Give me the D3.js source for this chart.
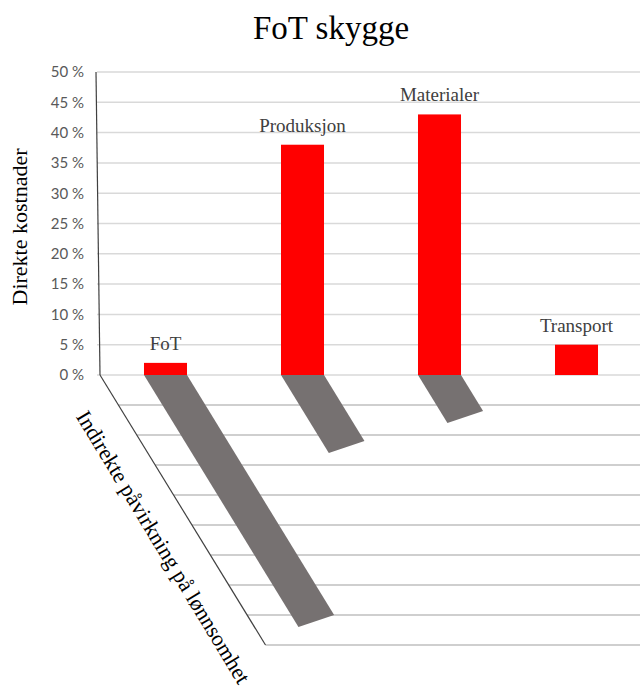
<!DOCTYPE html>
<html>
<head>
<meta charset="utf-8">
<script src="https://cdn.jsdelivr.net/npm/d3@7"></script>
<style>
  body { margin: 0; background: #fff; }
</style>
</head>
<body>
<svg id="shadowChart" width="640" height="691"></svg>
<script>
// red bars = direct costs, grey bars on the floor = indirect effect ("shadow")
const categories = ["FoT", "Produksjon", "Materialer", "Transport"]
const directCosts = [0.02, 0.38, 0.43, 0.05]
const indirectImpact = [0.42, 0.13, 0.08, 0]
const yTicks = [0, 0.05, 0.10, 0.15, 0.20, 0.25, 0.30, 0.35, 0.40, 0.45, 0.50]
const floorTicks = [0.05, 0.10, 0.15, 0.20, 0.25, 0.30, 0.35, 0.40, 0.45]

class ShadowChart {
    constructor() {
        this.vizWidth = 640
        this.vizHeight = 691
        this.setup()
        this.drawChart()
    }

    setup() {
        this.baseY = 375
        this.x = d3.scaleBand()
            .domain(categories)
            .range([97, 645])
            .paddingInner(0.686)
            .paddingOuter(0.343)
        this.y = d3.scaleLinear().domain([0, 0.5]).range([this.baseY, 72])
        // floor depth, measured straight down from the baseline
        this.depth = d3.scaleLinear().domain([0, 0.45]).range([0, 270])
        this.slant = 0.613   // px to the right per px of depth
        this.cut = 12        // far end of a shadow is tilted
        this.serif = "'Liberation Serif', 'Times New Roman', serif"
        this.pct = d => `${Math.round(d * 100)} %`
    }

    drawChart() {
        const svg = d3.select("#shadowChart")
        const base = this.baseY
        const edgeX = dy => 100 + dy * this.slant

        svg.append("text")
            .attr("x", 331).attr("y", 39)
            .attr("text-anchor", "middle")
            .attr("font-family", this.serif)
            .attr("font-size", 33)
            .attr("fill", "#000")
            .text("FoT skygge")

        // back wall gridlines
        svg.append("g")
            .selectAll("line")
            .data(yTicks)
            .join("line")
              .attr("x1", 97).attr("x2", 640)
              .attr("y1", d => this.y(d)).attr("y2", d => this.y(d))
              .attr("stroke", "#d9d9d9")
              .attr("stroke-width", 1.5)

        // floor gridlines start on the slanted edge
        svg.append("g")
            .selectAll("line")
            .data(floorTicks)
            .join("line")
              .attr("x1", d => edgeX(this.depth(d))).attr("x2", 640)
              .attr("y1", d => base + this.depth(d)).attr("y2", d => base + this.depth(d))
              .attr("stroke", "#cfcfcf")
              .attr("stroke-width", 1.8)

        const yAxis = svg.append("g")
            .attr("transform", "translate(84,0)")
            .call(d3.axisLeft(this.y).tickValues(yTicks).tickSize(0).tickPadding(0).tickFormat(this.pct))
        yAxis.select(".domain").remove()
        yAxis.selectAll("text")
            .attr("font-family", "Lato, 'Open Sans', sans-serif")
            .attr("font-size", 15)
            .attr("fill", "#595959")

        svg.append("line")
            .attr("x1", 96).attr("y1", this.y(0.5))
            .attr("x2", 100).attr("y2", base)
            .attr("stroke", "#404040").attr("stroke-width", 1.2)

        const floorEnd = this.depth(0.45)
        svg.append("line")
            .attr("x1", 100).attr("y1", base)
            .attr("x2", edgeX(floorEnd)).attr("y2", base + floorEnd)
            .attr("stroke", "#404040").attr("stroke-width", 1.2)

        svg.append("text")
            .attr("transform", "translate(27,227) rotate(-90)")
            .attr("text-anchor", "middle")
            .attr("font-family", this.serif)
            .attr("font-size", 22)
            .attr("fill", "#000")
            .text("Direkte kostnader")

        svg.append("text")
            .attr("transform", "translate(157,551) rotate(58.8)")
            .attr("text-anchor", "middle")
            .attr("font-family", this.serif)
            .attr("font-size", 22)
            .attr("fill", "#000")
            .text("Indirekte påvirkning på lønnsomhet")

        const rows = categories.map((c, i) => ({name: c, cost: directCosts[i], impact: indirectImpact[i]}))
        const bw = this.x.bandwidth()

        svg.append("g")
            .selectAll("polygon")
            .data(rows.filter(d => d.impact > 0))
            .join("polygon")
              .attr("fill", "#767171")
              .attr("points", d => {
                  const x0 = this.x(d.name), x1 = x0 + bw
                  const dl = this.depth(d.impact), dr = dl - this.cut
                  return [[x0, base], [x1, base],
                          [x1 + dr * this.slant, base + dr],
                          [x0 + dl * this.slant, base + dl]].join(" ")
              })

        svg.append("g")
            .selectAll("rect")
            .data(rows)
            .join("rect")
              .attr("x", d => this.x(d.name))
              .attr("y", d => this.y(d.cost))
              .attr("width", bw)
              .attr("height", d => base - this.y(d.cost))
              .attr("fill", "#ff0000")

        svg.append("g")
            .selectAll("text")
            .data(rows)
            .join("text")
              .attr("x", d => this.x(d.name) + bw / 2)
              .attr("y", d => this.y(d.cost) - 13)
              .attr("text-anchor", "middle")
              .attr("font-family", this.serif)
              .attr("font-size", 19)
              .attr("fill", "#404040")
              .text(d => d.name)
    }
}

new ShadowChart()
</script>
</body>
</html>
